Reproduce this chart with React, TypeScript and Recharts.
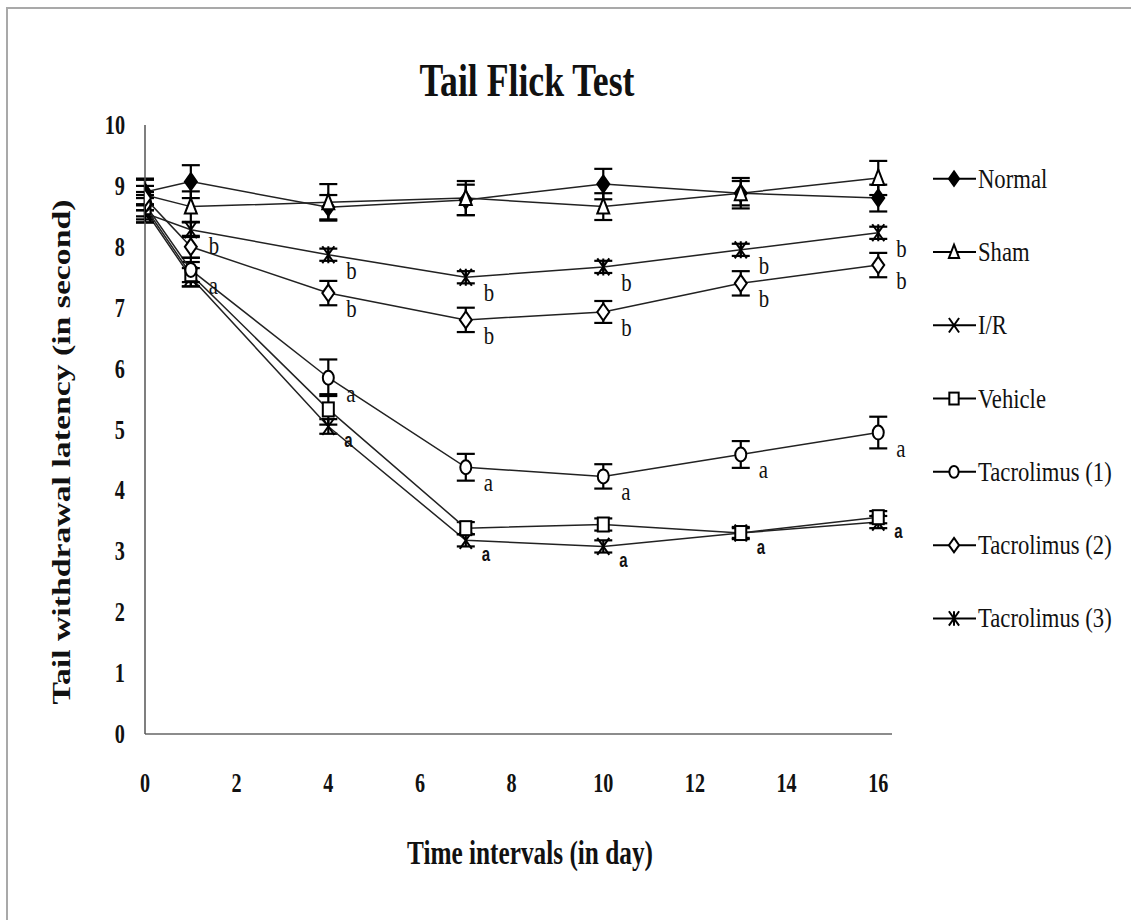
import React from 'react';
import { LineChart, Line, XAxis, YAxis, ErrorBar, LabelList, Legend } from 'recharts';

// time points (day)
const DAYS = [0, 1, 4, 7, 10, 13, 16];
const X_TICKS = [0, 2, 4, 6, 8, 10, 12, 14, 16];
const Y_TICKS = [0, 1, 2, 3, 4, 5, 6, 7, 8, 9, 10];

const NORMAL = [8.9, 9.07, 8.65, 8.77, 9.03, 8.88, 8.8];
const NORMAL_ERR = [0.22, 0.27, 0.2, 0.25, 0.25, 0.2, 0.22];
const NORMAL_TAGS = ['', '', '', '', '', '', ''];

const SHAM = [8.85, 8.66, 8.73, 8.8, 8.66, 8.88, 9.13];
const SHAM_ERR = [0.25, 0.25, 0.3, 0.28, 0.22, 0.25, 0.28];
const SHAM_TAGS = ['', '', '', '', '', '', ''];

const IR = [8.6, 7.5, 5.05, 3.18, 3.08, 3.3, 3.48];
const IR_ERR = [0.2, 0.15, 0.12, 0.1, 0.1, 0.08, 0.1];
const IR_TAGS = ['', '', 'a', 'a', 'a', '', ''];

const VEHICLE = [8.65, 7.55, 5.33, 3.38, 3.44, 3.3, 3.56];
const VEHICLE_ERR = [0.2, 0.2, 0.25, 0.1, 0.1, 0.1, 0.1];
const VEHICLE_TAGS = ['', '', '', '', '', 'a', 'a'];

const TAC1 = [8.7, 7.62, 5.85, 4.38, 4.23, 4.59, 4.95];
const TAC1_ERR = [0.2, 0.2, 0.3, 0.22, 0.2, 0.22, 0.26];
const TAC1_TAGS = ['', 'a', 'a', 'a', 'a', 'a', 'a'];

const TAC2 = [8.8, 8.0, 7.24, 6.8, 6.93, 7.4, 7.7];
const TAC2_ERR = [0.2, 0.18, 0.2, 0.2, 0.18, 0.2, 0.2];
const TAC2_TAGS = ['', '', 'b', 'b', 'b', 'b', 'b'];

const TAC3 = [8.55, 8.28, 7.87, 7.5, 7.67, 7.95, 8.23];
const TAC3_ERR = [0.15, 0.12, 0.1, 0.1, 0.1, 0.1, 0.1];
const TAC3_TAGS = ['', 'b', 'b', 'b', 'b', 'b', 'b'];

const SERIF = 'Liberation Serif';
const SANS = 'Liberation Sans';
const INK = '#111';

const SERIES = [
  { name: 'Normal', values: NORMAL, errors: NORMAL_ERR, tags: NORMAL_TAGS, marker: 'fdiamond', bold: false },
  { name: 'Sham', values: SHAM, errors: SHAM_ERR, tags: SHAM_TAGS, marker: 'triangle', bold: false },
  { name: 'I/R', values: IR, errors: IR_ERR, tags: IR_TAGS, marker: 'x', bold: true },
  { name: 'Vehicle', values: VEHICLE, errors: VEHICLE_ERR, tags: VEHICLE_TAGS, marker: 'square', bold: true },
  { name: 'Tacrolimus (1)', values: TAC1, errors: TAC1_ERR, tags: TAC1_TAGS, marker: 'circle', bold: false },
  { name: 'Tacrolimus (2)', values: TAC2, errors: TAC2_ERR, tags: TAC2_TAGS, marker: 'diamond', bold: false },
  { name: 'Tacrolimus (3)', values: TAC3, errors: TAC3_ERR, tags: TAC3_TAGS, marker: 'star', bold: false },
];

const Marker = ({ kind, cx, cy, s = 1 }: any) => {
  const st = { stroke: '#000', strokeWidth: 2, fill: '#fff' };
  const w = 6 * s;
  const h = 8.5 * s;
  switch (kind) {
    case 'fdiamond':
      return <polygon points={`${cx},${cy - h} ${cx + w},${cy} ${cx},${cy + h} ${cx - w},${cy}`} {...st} fill='#000' />;
    case 'diamond':
      return <polygon points={`${cx},${cy - h} ${cx + w},${cy} ${cx},${cy + h} ${cx - w},${cy}`} {...st} />;
    case 'triangle':
      return <polygon points={`${cx},${cy - h} ${cx + w},${cy + 7 * s} ${cx - w},${cy + 7 * s}`} {...st} />;
    case 'square':
      return <rect x={cx - 5.5 * s} y={cy - 7 * s} width={11 * s} height={14 * s} {...st} />;
    case 'circle':
      return <ellipse cx={cx} cy={cy} rx={5.5 * s} ry={7 * s} {...st} />;
    case 'x':
      return <path d={`M${cx - w},${cy - h} L${cx + w},${cy + h} M${cx + w},${cy - h} L${cx - w},${cy + h}`} stroke='#000' strokeWidth={2} fill='none' />;
    case 'star':
      return (
        <path
          d={`M${cx - w},${cy - h} L${cx + w},${cy + h} M${cx + w},${cy - h} L${cx - w},${cy + h} M${cx},${cy - h} L${cx},${cy + h}`}
          stroke='#000'
          strokeWidth={2}
          fill='none'
        />
      );
    default:
      return null;
  }
};

const makeTag = (bold: boolean) => (p: any) => {
  if (!p.value) return null;
  const vb = p.viewBox || {};
  const x = (vb.x ?? p.x) + (bold ? 16 : 18);
  const y = (vb.y ?? p.y) + (bold ? 21 : 24);
  return (
    <g transform={`translate(${x},${y}) scale(${bold ? 0.75 : 0.8},1)`}>
      <text
        x={0}
        y={0}
        fontFamily={bold ? SANS : SERIF}
        fontWeight={bold ? 'bold' : 'normal'}
        fontSize={bold ? 20 : 26}
        fill={INK}
      >
        {p.value}
      </text>
    </g>
  );
};

const XTick = (p: any) => (
  <g transform={`translate(${p.x},${p.y + 58}) scale(0.72,1)`}>
    <text x={0} y={0} textAnchor='middle' fontFamily={SERIF} fontWeight='bold' fontSize={28} fill={INK}>
      {p.payload.value}
    </text>
  </g>
);

const YTick = (p: any) => (
  <g transform={`translate(${p.x - 20},${p.y + 9}) scale(0.75,1)`}>
    <text x={0} y={0} textAnchor='end' fontFamily={SERIF} fontWeight='bold' fontSize={27} fill={INK}>
      {p.payload.value}
    </text>
  </g>
);

const ROW = 73.3;

const LegendBox = () => (
  <svg width={199} height={ROW * SERIES.length} style={{ display: 'block' }}>
    {SERIES.map((s, i) => {
      const cy = ROW / 2 + i * ROW;
      return (
        <g key={s.name}>
          <line x1={1} y1={cy} x2={44} y2={cy} stroke='#000' strokeWidth={2} />
          <Marker kind={s.marker} cx={22} cy={cy} s={0.85} />
          <g transform={`translate(46,${cy + 9}) scale(0.84,1)`}>
            <text x={0} y={0} fontFamily={SERIF} fontSize={27} fill={INK}>
              {s.name}
            </text>
          </g>
        </g>
      );
    })}
  </svg>
);

export default function App() {
  return (
    <div style={{ position: 'absolute', left: 0, top: 0, width: 1131, height: 920, background: '#fff' }}>
      <div
        style={{
          position: 'absolute',
          left: 6,
          top: 7,
          right: 0,
          bottom: 0,
          borderLeft: '2px solid #a9a9a9',
          borderTop: '2px solid #a9a9a9',
        }}
      />
      <LineChart width={1131} height={920} margin={{ top: 125, right: 239, bottom: 156, left: 85 }}>
        <XAxis
          type='number'
          dataKey='day'
          domain={[0, 16.3]}
          ticks={X_TICKS}
          allowDataOverflow
          height={30}
          tickLine={false}
          tickSize={0}
          tickMargin={0}
          axisLine={{ stroke: '#666', strokeWidth: 1.5 }}
          tick={<XTick />}
        />
        <YAxis
          type='number'
          domain={[0, 10]}
          ticks={Y_TICKS}
          width={60}
          tickLine={false}
          tickSize={0}
          tickMargin={0}
          axisLine={{ stroke: '#555', strokeWidth: 1.5 }}
          tick={<YTick />}
        />
        {SERIES.map((s) => (
          <Line
            key={s.name}
            name={s.name}
            data={DAYS.map((day, i) => ({ day, v: s.values[i], err: s.errors[i], tag: s.tags[i] }))}
            dataKey='v'
            type='linear'
            stroke='#222'
            strokeWidth={1.5}
            dot={(p: any) => <Marker key={`${s.name}-${p.index}`} kind={s.marker} cx={p.cx} cy={p.cy} />}
            activeDot={false}
            isAnimationActive={false}
          >
            <ErrorBar dataKey='err' width={9} strokeWidth={2.2} stroke='#000' direction='y' />
            <LabelList dataKey='tag' content={makeTag(s.bold)} />
          </Line>
        ))}
        <Legend
          layout='vertical'
          align='center'
          verticalAlign='middle'
          wrapperStyle={{ left: 932, top: 142, width: 199 }}
          content={() => <LegendBox />}
        />
      </LineChart>
      <svg
        width={1131}
        height={920}
        style={{ position: 'absolute', left: 0, top: 0, pointerEvents: 'none' }}
      >
        <text
          x={527}
          y={96}
          textAnchor='middle'
          fontFamily={SERIF}
          fontWeight='bold'
          fontSize={46}
          textLength={215}
          lengthAdjust='spacingAndGlyphs'
          fill={INK}
        >
          Tail Flick Test
        </text>
        <text
          transform='translate(70,452) rotate(-90)'
          textAnchor='middle'
          fontFamily={SERIF}
          fontWeight='bold'
          fontSize={26}
          textLength={505}
          lengthAdjust='spacingAndGlyphs'
          fill={INK}
        >
          Tail withdrawal latency (in second)
        </text>
        <text
          x={530}
          y={864}
          textAnchor='middle'
          fontFamily={SERIF}
          fontWeight='bold'
          fontSize={33}
          textLength={246}
          lengthAdjust='spacingAndGlyphs'
          fill={INK}
        >
          Time intervals (in day)
        </text>
      </svg>
    </div>
  );
}
